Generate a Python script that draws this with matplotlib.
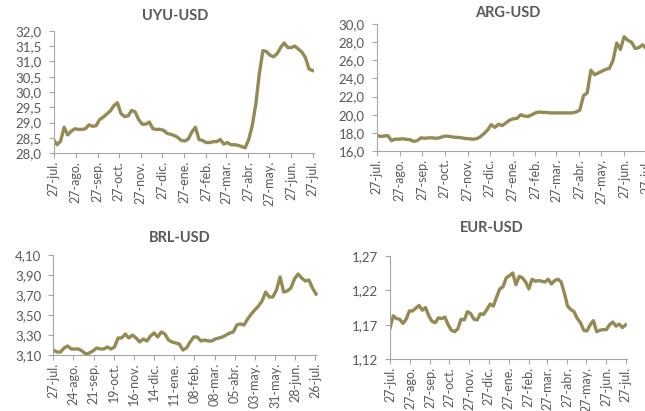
import pandas as pd
import matplotlib
matplotlib.use("Agg")
import matplotlib.pyplot as plt
from matplotlib.ticker import FuncFormatter

plt.rcParams['font.family'] = ['Lato', 'DejaVu Sans']

# one value every 5 days, 27-jul-2017 .. 27-jul-2018
dates = pd.date_range("2017-07-27", periods=74, freq="5D")

uyu = [28.45, 28.28, 28.40, 28.85, 28.60, 28.72, 28.80, 28.78, 28.78, 28.80,
       28.93, 28.88, 28.90, 29.10, 29.18, 29.28, 29.38, 29.55, 29.65, 29.30,
       29.20, 29.22, 29.40, 29.35, 29.10, 28.95, 28.95, 29.02, 28.80, 28.78,
       28.78, 28.75, 28.65, 28.62, 28.58, 28.52, 28.42, 28.40, 28.47, 28.70,
       28.85, 28.45, 28.42, 28.35, 28.35, 28.38, 28.38, 28.45, 28.30, 28.35,
       28.28, 28.28, 28.26, 28.22, 28.18, 28.45, 28.90, 29.60, 30.60, 31.35,
       31.32, 31.20, 31.15, 31.25, 31.45, 31.60, 31.45, 31.45, 31.50, 31.40,
       31.30, 31.12, 30.75, 30.70]

arg = [17.75, 17.60, 17.65, 17.70, 17.15, 17.30, 17.30, 17.35, 17.28, 17.25,
       17.05, 17.15, 17.45, 17.40, 17.45, 17.45, 17.40, 17.45, 17.60, 17.65,
       17.58, 17.52, 17.50, 17.45, 17.38, 17.35, 17.30, 17.35, 17.55, 17.90,
       18.30, 18.90, 18.60, 18.95, 18.80, 19.10, 19.40, 19.55, 19.60, 20.00,
       19.85, 19.80, 20.00, 20.20, 20.30, 20.25, 20.25, 20.20, 20.20, 20.20,
       20.20, 20.20, 20.20, 20.20, 20.30, 20.50, 22.10, 22.40, 24.90, 24.40,
       24.60, 24.80, 25.00, 25.10, 26.00, 27.90, 27.20, 28.60, 28.20, 28.00,
       27.30, 27.40, 27.70, 27.30]

brl = [3.15, 3.13, 3.13, 3.17, 3.19, 3.16, 3.16, 3.16, 3.14, 3.11,
       3.12, 3.14, 3.17, 3.16, 3.16, 3.18, 3.16, 3.18, 3.27, 3.27,
       3.31, 3.27, 3.30, 3.27, 3.23, 3.26, 3.24, 3.29, 3.32, 3.28,
       3.33, 3.31, 3.25, 3.23, 3.22, 3.21, 3.15, 3.17, 3.23, 3.28,
       3.28, 3.24, 3.25, 3.24, 3.24, 3.26, 3.27, 3.28, 3.30, 3.32,
       3.33, 3.40, 3.41, 3.40, 3.46, 3.51, 3.55, 3.59, 3.64, 3.73,
       3.68, 3.68, 3.75, 3.88, 3.73, 3.74, 3.77, 3.86, 3.91, 3.87,
       3.84, 3.85, 3.77, 3.71]

eur = [1.165, 1.183, 1.179, 1.178, 1.172, 1.178, 1.190, 1.190, 1.194, 1.198,
       1.191, 1.195, 1.183, 1.175, 1.173, 1.180, 1.179, 1.181, 1.170, 1.162,
       1.160, 1.164, 1.178, 1.177, 1.189, 1.186, 1.178, 1.177, 1.186, 1.185,
       1.192, 1.200, 1.197, 1.210, 1.222, 1.225, 1.238, 1.241, 1.245, 1.228,
       1.240, 1.238, 1.232, 1.222, 1.236, 1.233, 1.234, 1.233, 1.232, 1.236,
       1.229, 1.234, 1.236, 1.232, 1.216, 1.197, 1.192, 1.189, 1.179, 1.173,
       1.162, 1.161, 1.170, 1.176, 1.160, 1.162, 1.163, 1.163, 1.170, 1.174,
       1.168, 1.171, 1.166, 1.170]

month_ticks = ["2017-07-27", "2017-08-27", "2017-09-27", "2017-10-27", "2017-11-27",
               "2017-12-27", "2018-01-27", "2018-02-27", "2018-03-27", "2018-04-27",
               "2018-05-27", "2018-06-27", "2018-07-27"]
month_labels = ["27-jul.", "27-ago.", "27-sep.", "27-oct.", "27-nov.", "27-dic.",
                "27-ene.", "27-feb.", "27-mar.", "27-abr.", "27-may.", "27-jun.", "27-jul."]

brl_ticks = ["2017-07-27", "2017-08-24", "2017-09-21", "2017-10-19", "2017-11-16",
             "2017-12-14", "2018-01-11", "2018-02-08", "2018-03-08", "2018-04-05",
             "2018-05-03", "2018-05-31", "2018-06-28", "2018-07-26"]
brl_labels = ["27-jul.", "24-ago.", "21-sep.", "19-oct.", "16-nov.", "14-dic.", "11-ene.",
              "08-feb.", "08-mar.", "05-abr.", "03-may.", "31-may.", "28-jun.", "26-jul."]

line_color = "#948A54"
text_color = "#595959"
axis_color = "#A6A6A6"


def draw(ax, values, ylim, ystep, decimals, ticks, labels, xend):
    ax.plot(dates, values, color=line_color, lw=2.4, solid_joinstyle="round")
    ax.set_ylim(*ylim)
    n = round((ylim[1] - ylim[0]) / ystep)
    ax.set_yticks([ylim[0] + k * ystep for k in range(n + 1)])
    ax.yaxis.set_major_formatter(FuncFormatter(
        lambda v, p: f"{v:.{decimals}f}".replace(".", ",")))
    ax.set_xlim(pd.Timestamp("2017-07-27"), pd.Timestamp(xend))
    ax.set_xticks(pd.to_datetime(ticks))
    ax.set_xticklabels(labels, rotation=90)
    for s in ["top", "right"]:
        ax.spines[s].set_visible(False)
    for s in ["left", "bottom"]:
        ax.spines[s].set_color(axis_color)
        ax.spines[s].set_linewidth(0.8)
    ax.tick_params(axis="both", colors=axis_color, labelcolor=text_color,
                   length=3.5, width=0.8, direction="out")
    ax.tick_params(axis="y", pad=5, labelsize=9.5)
    ax.tick_params(axis="x", pad=2, labelsize=9)


fig = plt.figure(figsize=(6.45, 4.11), dpi=100)
W, H = 645, 411


def box(x0, y0, x1, y1):
    return [x0 / W, 1 - y1 / H, (x1 - x0) / W, (y1 - y0) / H]


ax1 = fig.add_axes(box(53.5, 30.7, 314, 153.3))
draw(ax1, uyu, (28.0, 32.0), 0.5, 1, month_ticks, month_labels, "2018-07-29")

ax2 = fig.add_axes(box(376.7, 24.0, 647, 151.0))
draw(ax2, arg, (16.0, 30.0), 2.0, 1, month_ticks, month_labels, "2018-07-28")

ax3 = fig.add_axes(box(53.3, 255.0, 317.5, 355.0))
draw(ax3, brl, (3.10, 4.10), 0.2, 2, brl_ticks, brl_labels, "2018-07-29")

ax4 = fig.add_axes(box(390.0, 255.7, 627.0, 359.3))
draw(ax4, eur, (1.12, 1.27), 0.05, 2, month_ticks, month_labels, "2018-07-29")

titles = ["UYU-USD", "ARG-USD", "BRL-USD", "EUR-USD"]
title_pos = [(175, 16), (508, 13), (180, 238), (492, 228)]
for t, (x, y) in zip(titles, title_pos):
    fig.text(x / W, 1 - y / H, t, ha="center", va="center", fontsize=10.5,
             fontweight="bold", color=text_color)

fig.savefig("out.png", dpi=100)
